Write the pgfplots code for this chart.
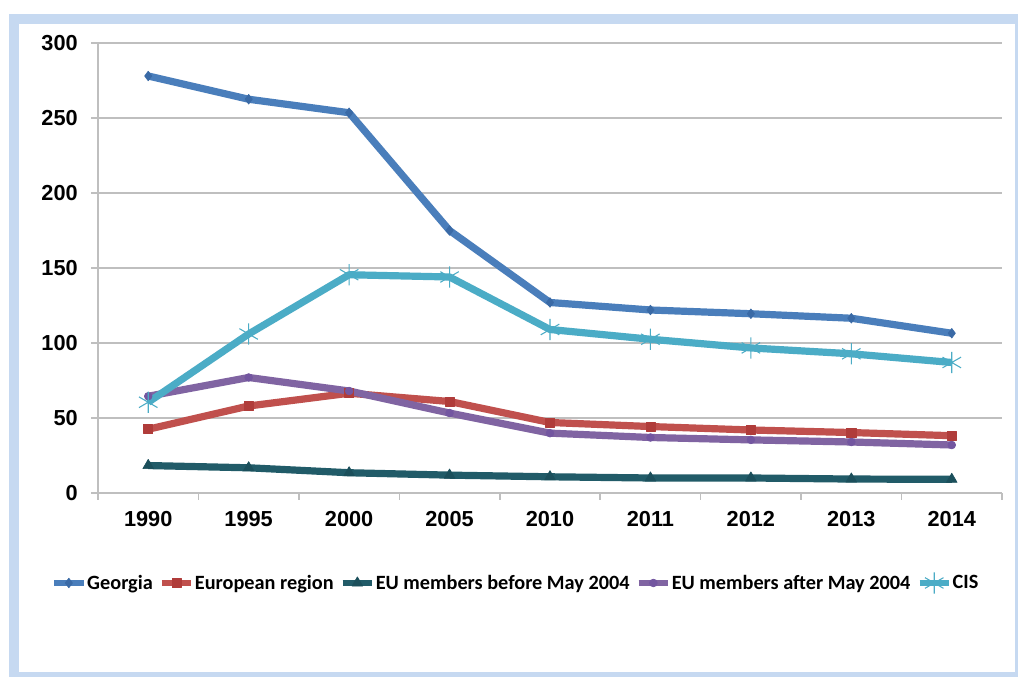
\documentclass[border=0pt]{standalone}
\usepackage{pgfplots}
\pgfplotsset{compat=1.18}
\usepackage{fontspec}
\setmainfont{Liberation Sans}
\newfontfamily\legendfont{Carlito}

\definecolor{frameblue}{HTML}{C6D9F1}
\definecolor{cGeorgia}{HTML}{4A7EBB}
\definecolor{mGeorgia}{HTML}{3A6AA6}
\definecolor{cEuro}{HTML}{C0504D}
\definecolor{mEuro}{HTML}{B03C3A}
\definecolor{cBefore}{HTML}{215B68}
\definecolor{mBefore}{HTML}{1B4F5B}
\definecolor{cAfter}{HTML}{8064A2}
\definecolor{mAfter}{HTML}{7356A0}
\definecolor{cCIS}{HTML}{4BACC6}
\definecolor{gridgray}{HTML}{BFBFBF}

\begin{document}
\begin{tikzpicture}[x=0.75pt,y=0.75pt]
% page and light blue frame
\useasboundingbox (0,0) rectangle (1018,677);
\fill[white] (0,0) rectangle (1018,677);
\fill[frameblue] (9,0) rectangle (1018,663);
\fill[white] (19,5) rectangle (1015,653);

\begin{axis}[
  at={(73.5pt,138pt)}, anchor=south west,
  scale only axis, width=678pt, height=337.5pt,
  xmin=-0.5, xmax=8.5, ymin=0, ymax=300,
  ytick={0,50,...,300},
  xtick={0,...,8},
  xticklabels={1990,1995,2000,2005,2010,2011,2012,2013,2014},
  minor xtick={-0.5,0.5,...,8.5},
  axis x line*=bottom, axis y line*=left,
  axis line style={draw=gridgray, line width=1.1pt},
  ymajorgrids, grid style={draw=gridgray, line width=1.1pt},
  tick align=outside,
  major tick length=5pt, minor tick length=5pt,
  every tick/.style={draw=gridgray, line width=1.1pt},
  major x tick style={draw=none},
  /pgf/number format/assume math mode=true,
  tick label style={font=\bfseries\fontsize{16.3}{19}\selectfont},
  yticklabel style={anchor=east, inner sep=0pt, xshift=-10pt},
  xticklabel style={anchor=north, inner sep=0pt, yshift=-8.5pt},
  line join=round,
  every axis plot/.append style={line width=5.4pt},
  legend style={at={(0.4618,-0.2)}, anchor=center, draw=none, fill=none,
    legend columns=-1,
    font=\legendfont\bfseries\fontsize{15.2}{18}\selectfont,
    /tikz/every even column/.append style={column sep=4pt},
    nodes={inner xsep=0.8pt, inner ysep=1pt}},
  legend image code/.code={%
    \draw[mark repeat=2,mark phase=2,line width=4pt]
      plot coordinates {(0pt,0pt)(11pt,0pt)(22pt,0pt)};},
]
% Georgia
\addplot[cGeorgia, mark=diamond*, mark size=3.6pt,
  mark options={fill=mGeorgia, draw=mGeorgia, line width=0.5pt}]
  coordinates {(0,278) (1,262.5) (2,253.5) (3,175) (4,127) (5,122) (6,119.5) (7,116.5) (8,106.5)};
\addlegendentry{Georgia}
% European region
\addplot[cEuro, mark=square*, mark size=3.4pt,
  mark options={fill=mEuro, draw=mEuro, line width=0.5pt}]
  coordinates {(0,42.5) (1,58) (2,66.5) (3,61) (4,47) (5,44.3) (6,42) (7,40.3) (8,38.2)};
\addlegendentry{European region}
% EU members before May 2004
\addplot[cBefore, mark=triangle*, mark size=4.6pt,
  mark options={fill=mBefore, draw=mBefore, line width=0.5pt}]
  coordinates {(0,18.3) (1,16.8) (2,13.5) (3,11.9) (4,10.8) (5,10) (6,10) (7,9.3) (8,9.1)};
\addlegendentry{EU members before May 2004}
% EU members after May 2004
\addplot[cAfter, mark=*, mark size=2.9pt,
  mark options={fill=mAfter, draw=mAfter, line width=0.5pt}]
  coordinates {(0,64.5) (1,77) (2,68) (3,53.3) (4,39.9) (5,37) (6,35.4) (7,34) (8,32)};
\addlegendentry{EU members after May 2004}
% CIS
\addplot[cCIS, mark=asterisk, mark size=8pt,
  mark options={draw=cCIS, line width=0.8pt}]
  coordinates {(0,60.5) (1,106) (2,145.5) (3,144) (4,109) (5,102.5) (6,96.7) (7,92.8) (8,87)};
\addlegendentry{CIS}
\end{axis}
\end{tikzpicture}
\end{document}
